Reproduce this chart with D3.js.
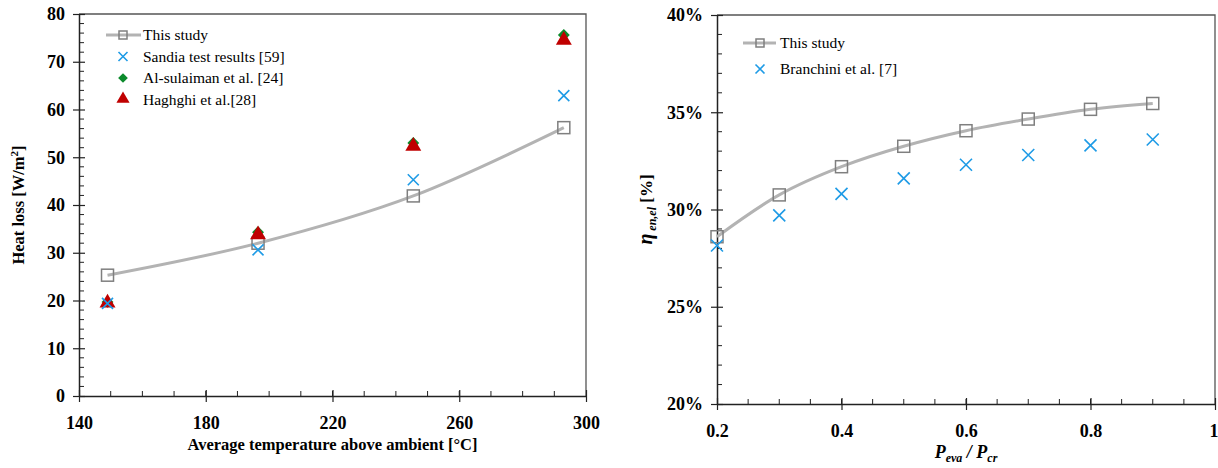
<!DOCTYPE html>
<html>
<head>
<meta charset="utf-8">
<script src="https://cdn.jsdelivr.net/npm/d3@7"></script>
<style>
  body { margin: 0; background: #fff; }
  svg { display: block; font-family: "Liberation Serif", "Times New Roman", serif; }
  .tick text { font-family: "Liberation Serif", "Times New Roman", serif; font-weight: bold; font-size: 18px; fill: #000; }
</style>
</head>
<body>
<script>
// left chart: heat loss vs temperature
const temps = [149, 196.5, 245.5, 293];
const thisStudyLoss = [25.3, 32.0, 41.9, 56.2];
const sandiaLoss = [19.4, 30.6, 45.3, 62.9];
const alSulaimanLoss = [19.7, 34.3, 53.0, 75.6];
const haghghiLoss = [19.5, 33.8, 52.3, 74.5];
const leftXTicks = [140, 180, 220, 260, 300];
const leftYTicks = [0, 10, 20, 30, 40, 50, 60, 70, 80];

// right chart: efficiency vs pressure ratio
const ratios = [0.2, 0.3, 0.4, 0.5, 0.6, 0.7, 0.8, 0.9];
const thisStudyEff = [28.6, 30.75, 32.2, 33.25, 34.05, 34.65, 35.15, 35.45];
const branchiniEff = [28.15, 29.7, 30.8, 31.6, 32.3, 32.8, 33.3, 33.6];
const rightXTicks = [0.2, 0.4, 0.6, 0.8, 1];
const rightYTicks = [20, 25, 30, 35, 40];

const width = 1218;
const height = 468;
const lineGray = "#b3b3b3";
const markGray = "#7f7f7f";
const blue = "#1e9be6";
const green = "#0b8a2b";
const red = "#c00000";
const axisColor = "#222";

const svg = d3.select("body").append("svg")
  .attr("width", width)
  .attr("height", height);

const drawFrame = (g, x, y, xMinor, yMinor) => {
  const [x0, x1] = x.range();
  const [y0, y1] = y.range();
  // top and right border
  g.append("path")
    .attr("d", `M${x0},${y1}H${x1}V${y0}`)
    .attr("fill", "none")
    .attr("stroke", "#555")
    .attr("stroke-width", 1.3);
  // minor ticks inside
  g.append("g").selectAll("line").data(xMinor).join("line")
    .attr("x1", (d) => x(d)).attr("x2", (d) => x(d))
    .attr("y1", y0).attr("y2", y0 - 5)
    .attr("stroke", axisColor);
  g.append("g").selectAll("line").data(yMinor).join("line")
    .attr("y1", (d) => y(d)).attr("y2", (d) => y(d))
    .attr("x1", x0).attr("x2", x0 + 5)
    .attr("stroke", axisColor);
};

const styleAxis = (sel) => {
  sel.attr("font-family", null).attr("font-size", null);
  sel.select(".domain").attr("stroke", axisColor).attr("stroke-width", 1.5);
  sel.selectAll(".tick line").attr("stroke", axisColor).attr("stroke-width", 1.2);
};

const square = (g, pts, s) => {
  g.append("g").selectAll("rect").data(pts).join("rect")
    .attr("x", (d) => d[0] - s / 2).attr("y", (d) => d[1] - s / 2)
    .attr("width", s).attr("height", s)
    .attr("fill", "none").attr("stroke", markGray).attr("stroke-width", 1.5);
};

const cross = (g, pts, s, color) => {
  g.append("g").selectAll("path").data(pts).join("path")
    .attr("d", (d) => `M${d[0] - s / 2},${d[1] - s / 2}L${d[0] + s / 2},${d[1] + s / 2}M${d[0] - s / 2},${d[1] + s / 2}L${d[0] + s / 2},${d[1] - s / 2}`)
    .attr("stroke", color).attr("stroke-width", 1.6).attr("fill", "none");
};

const symbolMarks = (g, pts, type, size, color) => {
  g.append("g").selectAll("path").data(pts).join("path")
    .attr("transform", (d) => `translate(${d[0]},${d[1]})`)
    .attr("d", d3.symbol().type(type).size(size))
    .attr("fill", color);
};

// ---------- left chart ----------
{
  const x = d3.scaleLinear().domain([140, 300]).range([79, 586]);
  const y = d3.scaleLinear().domain([0, 80]).range([396, 14]);
  const g = svg.append("g");

  drawFrame(g, x, y, d3.range(150, 300, 10), d3.range(2, 80, 2).filter((d) => d % 10));

  g.append("g").attr("transform", `translate(0,${y(0)})`)
    .call(d3.axisBottom(x).tickValues(leftXTicks).tickSizeInner(6).tickSizeOuter(0).tickPadding(14))
    .call(styleAxis)
    .call((a) => a.selectAll(".tick line").attr("y1", -6));
  g.append("g").attr("transform", `translate(${x(140)},0)`)
    .call(d3.axisLeft(y).tickValues(leftYTicks).tickSizeInner(6).tickSizeOuter(0).tickPadding(8))
    .call(styleAxis)
    .call((a) => a.selectAll(".tick line").attr("x1", 6));

  const line = d3.line().curve(d3.curveCatmullRom.alpha(0.5))
    .x((d, i) => x(temps[i])).y((d) => y(d));
  g.append("path").datum(thisStudyLoss)
    .attr("d", line).attr("fill", "none")
    .attr("stroke", lineGray).attr("stroke-width", 3);

  const pts = (vals) => vals.map((v, i) => [x(temps[i]), y(v)]);
  square(g, pts(thisStudyLoss), 12);
  symbolMarks(g, pts(alSulaimanLoss), d3.symbolDiamond2, 90, green);
  symbolMarks(g, pts(haghghiLoss), d3.symbolTriangle, 110, red);
  cross(g, pts(sandiaLoss), 11, blue);

  // legend
  const lg = g.append("g").attr("font-size", 15.5);
  lg.append("line").attr("x1", 106).attr("x2", 141).attr("y1", 35).attr("y2", 35)
    .attr("stroke", lineGray).attr("stroke-width", 3);
  square(lg, [[123, 35]], 8);
  cross(lg, [[123, 56.5]], 9, blue);
  symbolMarks(lg, [[123, 78]], d3.symbolDiamond2, 60, green);
  symbolMarks(lg, [[123, 99]], d3.symbolTriangle, 75, red);
  const leftLegend = ["This study", "Sandia test results [59]", "Al-sulaiman et al. [24]", "Haghghi et al.[28]"];
  lg.selectAll("text").data(leftLegend).join("text")
    .attr("x", 143).attr("y", (d, i) => 35 + i * 21.4).attr("dy", "0.35em")
    .text((d) => d);

  // axis titles
  g.append("text").attr("x", (x(140) + x(300)) / 2).attr("y", 450)
    .attr("text-anchor", "middle").attr("font-weight", "bold").attr("font-size", 16.5)
    .text("Average temperature above ambient [°C]");
  const yt = g.append("text").attr("transform", `translate(24,${y(40)}) rotate(-90)`)
    .attr("text-anchor", "middle").attr("font-weight", "bold").attr("font-size", 16.5);
  yt.append("tspan").text("Heat loss [W/m");
  yt.append("tspan").attr("font-size", 11).attr("dy", -6).text("2");
  yt.append("tspan").attr("dy", 6).text("]");
}

// ---------- right chart ----------
{
  const x = d3.scaleLinear().domain([0.2, 1]).range([717, 1215]);
  const y = d3.scaleLinear().domain([20, 40]).range([404, 15]);
  const g = svg.append("g");

  drawFrame(g, x, y, d3.range(0.25, 1, 0.05), d3.range(21, 40, 1).filter((d) => d % 5));

  g.append("g").attr("transform", `translate(0,${y(20)})`)
    .call(d3.axisBottom(x).tickValues(rightXTicks).tickFormat((d) => d === 1 ? "1" : d3.format(".1f")(d))
      .tickSizeInner(6).tickSizeOuter(0).tickPadding(14))
    .call(styleAxis)
    .call((a) => a.selectAll(".tick line").attr("y1", -6))
    .call((a) => a.selectAll(".tick text").filter((d) => d === 1)
      .attr("text-anchor", "end").attr("dx", 3));
  g.append("g").attr("transform", `translate(${x(0.2)},0)`)
    .call(d3.axisLeft(y).tickValues(rightYTicks).tickFormat((d) => d + "%")
      .tickSizeInner(6).tickSizeOuter(0).tickPadding(8))
    .call(styleAxis)
    .call((a) => a.selectAll(".tick line").attr("x1", 6));

  const line = d3.line().curve(d3.curveCatmullRom.alpha(0.5))
    .x((d, i) => x(ratios[i])).y((d) => y(d));
  g.append("path").datum(thisStudyEff)
    .attr("d", line).attr("fill", "none")
    .attr("stroke", lineGray).attr("stroke-width", 3);

  const pts = (vals) => vals.map((v, i) => [x(ratios[i]), y(v)]);
  square(g, pts(thisStudyEff), 12);
  cross(g, pts(branchiniEff), 12, blue);

  // legend
  const lg = g.append("g").attr("font-size", 15.5);
  lg.append("line").attr("x1", 743).attr("x2", 776).attr("y1", 43).attr("y2", 43)
    .attr("stroke", lineGray).attr("stroke-width", 3);
  square(lg, [[760, 43]], 8);
  cross(lg, [[760, 69]], 9, blue);
  lg.selectAll("text").data(["This study", "Branchini et al. [7]"]).join("text")
    .attr("x", 780).attr("y", (d, i) => 43 + i * 26).attr("dy", "0.35em")
    .text((d) => d);

  // axis titles
  const xt = g.append("text").attr("x", 966).attr("y", 458)
    .attr("text-anchor", "middle").attr("font-weight", "bold").attr("font-style", "italic").attr("font-size", 18);
  xt.append("tspan").text("P");
  xt.append("tspan").attr("font-size", 12).attr("dy", 4).text("eva");
  xt.append("tspan").attr("dy", -4).text(" / P");
  xt.append("tspan").attr("font-size", 12).attr("dy", 4).text("cr");

  const yt = g.append("text").attr("transform", `translate(652,${y(30)}) rotate(-90)`)
    .attr("text-anchor", "middle").attr("font-weight", "bold").attr("font-size", 17);
  yt.append("tspan").attr("font-style", "italic").attr("font-size", 20).text("η");
  yt.append("tspan").attr("font-style", "italic").attr("font-size", 12).attr("dy", 4).text(" en,el");
  yt.append("tspan").attr("dy", -4).text(" [%]");
}
</script>
</body>
</html>
